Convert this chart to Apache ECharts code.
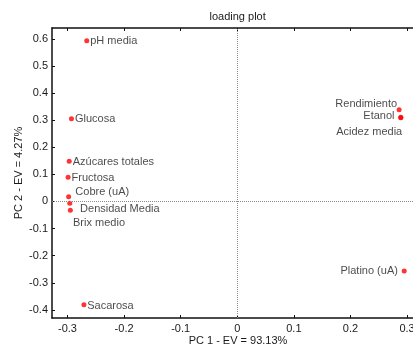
<!DOCTYPE html>
<html><head><meta charset="utf-8">
<script src="https://cdn.jsdelivr.net/npm/echarts@6/dist/echarts.min.js"></script>
<style>html,body{margin:0;padding:0;overflow:hidden;background:#fff}#c{width:413px;height:349px}</style>
</head><body><div id="c"></div>
<script>
const names = ['pH media','Glucosa','Azúcares totales','Fructosa','Cobre (uA)','Densidad Media','Brix medio','Rendimiento','Etanol','Acidez media','Platino (uA)','Sacarosa'];
const pc1 = [-0.266,-0.293,-0.297,-0.299,-0.298,-0.296,-0.295,0.286,0.289,0.289,0.295,-0.271];
const pc2 = [0.593,0.305,0.148,0.089,0.017,-0.007,-0.032,0.338,0.311,0.309,-0.257,-0.381];
const xTicks = [-0.3,-0.2,-0.1,0,0.1,0.2,0.3];
const yTicks = [-0.4,-0.3,-0.2,-0.1,0,0.1,0.2,0.3,0.4,0.5,0.6];

// label placement (pixel offsets from each dot)
const place = {
  'pH media':[3.5,0.5,'left'], 'Glucosa':[3.5,0,'left'], 'Azúcares totales':[3.5,0.3,'left'],
  'Fructosa':[3.5,1,'left'], 'Cobre (uA)':[6.7,-4.4,'left'], 'Densidad Media':[10.3,6,'left'],
  'Brix medio':[2.7,13.3,'left'], 'Rendimiento':[-2,-5.7,'right'], 'Etanol':[-6.3,-1.3,'right'],
  'Acidez media':[1.4,14.4,'right'], 'Platino (uA)':[-6.3,-0.4,'right'], 'Sacarosa':[3.3,1,'left']
};
const FONT = 'Liberation Sans, Arial, sans-serif';
const TXT = '#1a1a1a';
const data = names.map((n,i)=>({
  value:[pc1[i],pc2[i]], name:n,
  label:{show:true, formatter:n, position:['50%','50%'], offset:[place[n][0],place[n][1]],
    align:place[n][2], verticalAlign:'middle', fontSize:11, color:TXT, fontFamily:FONT}
}));
const xr = {min:-0.3274, max:0.33};
const yr = {min:-0.43, max:0.64};
const chart = echarts.init(document.getElementById('c'), null, {renderer:'canvas'});
chart.setOption({
  animation:false,
  title:{text:'loading plot', left:204.5, top:6, textStyle:{fontSize:11, fontWeight:'normal', color:TXT, fontFamily:FONT}},
  grid:{left:52, top:28, bottom:31, width:372, outerBoundsMode:'none', containLabel:false},
  xAxis:[{
    type:'value', min:xr.min, max:xr.max, position:'bottom',
    name:'PC 1 - EV = 93.13%', nameLocation:'middle', nameGap:17, nameMoveOverlap:false,
    nameTextStyle:{fontSize:11, color:TXT, fontFamily:FONT},
    axisLine:{show:true, onZero:false, lineStyle:{color:'#111', width:1.5}},
    axisTick:{show:true, inside:true, length:3, customValues:xTicks, lineStyle:{color:'#111'}},
    axisLabel:{show:true, customValues:xTicks, fontSize:11, color:TXT, fontFamily:FONT, margin:5},
    splitLine:{show:false}
  },{
    type:'value', min:xr.min, max:xr.max, position:'top',
    axisLine:{show:true, onZero:false, lineStyle:{color:'#111', width:1.5}},
    axisTick:{show:true, inside:true, length:3, customValues:xTicks, lineStyle:{color:'#111'}},
    axisLabel:{show:false}, splitLine:{show:false}
  }],
  yAxis:[{
    type:'value', min:yr.min, max:yr.max, position:'left',
    name:'PC 2 - EV = 4.27%', nameLocation:'middle', nameGap:28, nameMoveOverlap:false,
    nameTextStyle:{fontSize:11, color:TXT, fontFamily:FONT},
    axisLine:{show:true, onZero:false, lineStyle:{color:'#111', width:1.5}},
    axisTick:{show:true, inside:true, length:3, customValues:yTicks, lineStyle:{color:'#111'}},
    axisLabel:{show:true, customValues:yTicks, fontSize:11, color:TXT, fontFamily:FONT, margin:4},
    splitLine:{show:false}
  }],
  series:[{
    type:'scatter', xAxisIndex:0, yAxisIndex:0, symbol:'circle', symbolSize:5,
    itemStyle:{color:'#ff0000'}, data:data,
    markLine:{silent:true, symbol:'none', label:{show:false},
      lineStyle:{color:'#8a8a8a', type:'dotted', width:1},
      data:[{xAxis:0},{yAxis:0}]}
  }]
});
</script></body></html>
